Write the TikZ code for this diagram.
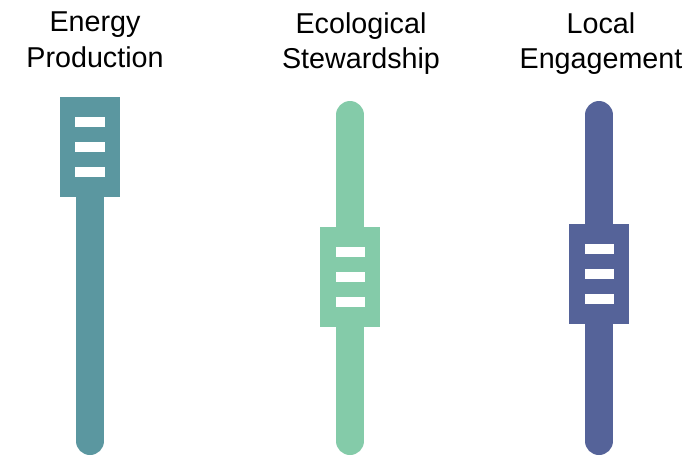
\documentclass[tikz,border=0pt]{standalone}
\usepackage{fontspec}
\setmainfont{Liberation Sans}
\usetikzlibrary{positioning}
\definecolor{sldTeal}{HTML}{5B97A0}
\definecolor{sldMint}{HTML}{84CBA9}
\definecolor{sldNavy}{HTML}{556399}

\begin{document}
\begin{tikzpicture}[x=0.03cm,y=-0.03cm,
      lbl/.style={align=center,font=\fontsize{24.5}{30}\selectfont,anchor=north,inner sep=0pt},
      track/.style={line width=0.84cm,line cap=round},
      knob/.style={minimum width=1.8cm,minimum height=3cm,inner sep=0pt},
      grip/.style={fill=white,minimum width=0.87cm,minimum height=0.3cm,inner sep=0pt}]
      \useasboundingbox (0,0) rectangle (689,462);
      \node[lbl] (l1) at (95,12) {Energy\\Production};
      \node[lbl] (l2) at (361,12) {Ecological\\Stewardship};
      \node[lbl] (l3) at (601,12) {Local\\Engagement};
      \foreach \n/\x/\k/\c in {1/90/147/sldTeal,2/350/277/sldMint,3/599/274/sldNavy}{
        \coordinate (t\n) at (\x,115);
        \coordinate (b\n) at (\x,441);
        \draw[track,\c] (t\n) -- (b\n);
        \node[knob,fill=\c] (k\n) at (\x,\k) {};
        \node[grip] (ga\n) at ([yshift=0.75cm]k\n.center) {};
        \node[grip] (gb\n) at (k\n.center) {};
        \node[grip] (gc\n) at ([yshift=-0.75cm]k\n.center) {};
      }
    \end{tikzpicture}
\end{document}
